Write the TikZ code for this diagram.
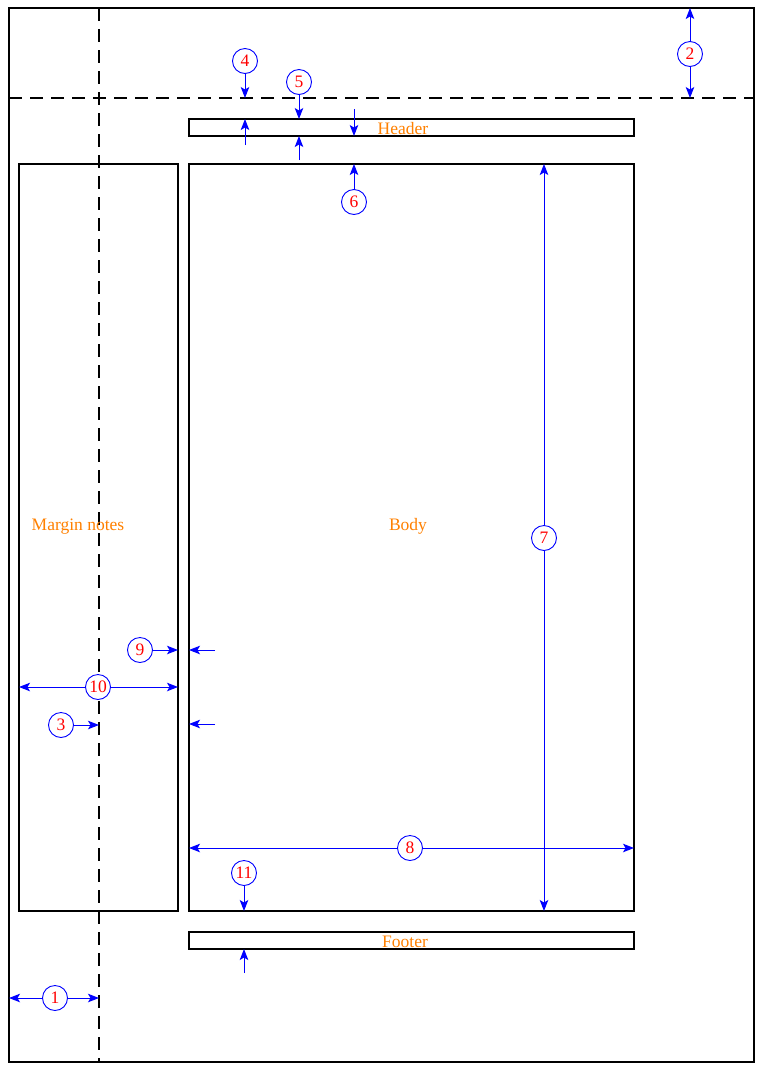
\documentclass[tikz,border=0pt]{standalone}
\usepackage{fontspec}
\setmainfont{Liberation Serif}
\usetikzlibrary{arrows.meta}
\definecolor{lblorange}{RGB}{255,128,0}
\begin{document}
\begin{tikzpicture}[x=1pt,y=-1pt,
  box/.style={draw=black, line width=1.6pt, fill=none, inner sep=0pt, outer sep=0pt, anchor=north west},
  dashline/.style={draw=black, line width=2pt, dash pattern=on 13pt off 8pt},
  dim/.style={draw=blue, line width=1pt, -{Stealth[length=11pt,width=8.5pt,inset=2.5pt]}},
  num/.style={circle, draw=blue, line width=0.9pt, text=red, minimum size=25pt, inner sep=0pt, fill=white, font=\fontsize{17.5}{17.5}\selectfont},
  lbl/.style={text=lblorange, inner sep=0pt, anchor=base, font=\fontsize{17.5}{17.5}\selectfont}]
\useasboundingbox (0,0) rectangle (762,1072);
% page and boxes
\node[box, minimum width=745pt, minimum height=1054pt] (page) at (9,8) {};
\node[box, minimum width=445pt, minimum height=17pt] (header) at (189,119) {};
\node[box, minimum width=445pt, minimum height=747pt] (body) at (189,164) {};
\node[box, minimum width=159pt, minimum height=747pt] (margin) at (19,164) {};
\node[box, minimum width=445pt, minimum height=17pt] (footer) at (189,932) {};
% dashed reference lines
\coordinate (vt) at (99,8);
\coordinate (vb) at (99,1062);
\coordinate (hl) at (9,98);
\coordinate (hr) at (754,98);
\draw[dashline] (vt) -- (vb);
\draw[dashline] (hl) -- (hr);
% labels
\node[lbl] (lhead) at (403,134) {Header};
\node[lbl] (lbody) at (408,530) {Body};
\node[lbl] (lmarg) at (78,530) {Margin notes};
\node[lbl] (lfoot) at (405,947) {Footer};
% numbered markers
\node[num] (n1) at (55,998) {1};
\node[num] (n2) at (690,54) {2};
\node[num] (n3) at (61,725) {3};
\node[num] (n4) at (245,61) {4};
\node[num] (n5) at (299,82) {5};
\node[num] (n6) at (354,202) {6};
\node[num] (n7) at (544,538) {7};
\node[num] (n8) at (410,848) {8};
\node[num] (n9) at (140,650) {9};
\node[num] (n10) at (98,687) {10};
\node[num] (n11) at (244,873) {11};
% free ends of single arrows
\coordinate (a3) at (215,724);
\coordinate (a4) at (245,145);
\coordinate (a5) at (299,160);
\coordinate (a6) at (354,109);
\coordinate (a9) at (215,650);
\coordinate (a11) at (244,973);
% 1
\draw[dim] (n1) -- (n1 -| page.west);
\draw[dim] (n1) -- (n1 -| vt);
% 2
\draw[dim] (n2) -- (n2 |- page.north);
\draw[dim] (n2) -- (n2 |- hl);
% 3
\draw[dim] (n3) -- (n3 -| vt);
\draw[dim] (a3) -- (a3 -| body.west);
% 4
\draw[dim] (n4) -- (n4 |- hl);
\draw[dim] (a4) -- (a4 |- header.north);
% 5
\draw[dim] (n5) -- (n5 |- header.north);
\draw[dim] (a5) -- (a5 |- header.south);
% 6
\draw[dim] (n6) -- (n6 |- body.north);
\draw[dim] (a6) -- (a6 |- header.south);
% 7
\draw[dim] (n7) -- (n7 |- body.north);
\draw[dim] (n7) -- (n7 |- body.south);
% 8
\draw[dim] (n8) -- (n8 -| body.west);
\draw[dim] (n8) -- (n8 -| body.east);
% 9
\draw[dim] (n9) -- (n9 -| margin.east);
\draw[dim] (a9) -- (a9 -| body.west);
% 10
\draw[dim] (n10) -- (n10 -| margin.west);
\draw[dim] (n10) -- (n10 -| margin.east);
% 11
\draw[dim] (n11) -- (n11 |- body.south);
\draw[dim] (a11) -- (a11 |- footer.south);
\end{tikzpicture}
\end{document}
